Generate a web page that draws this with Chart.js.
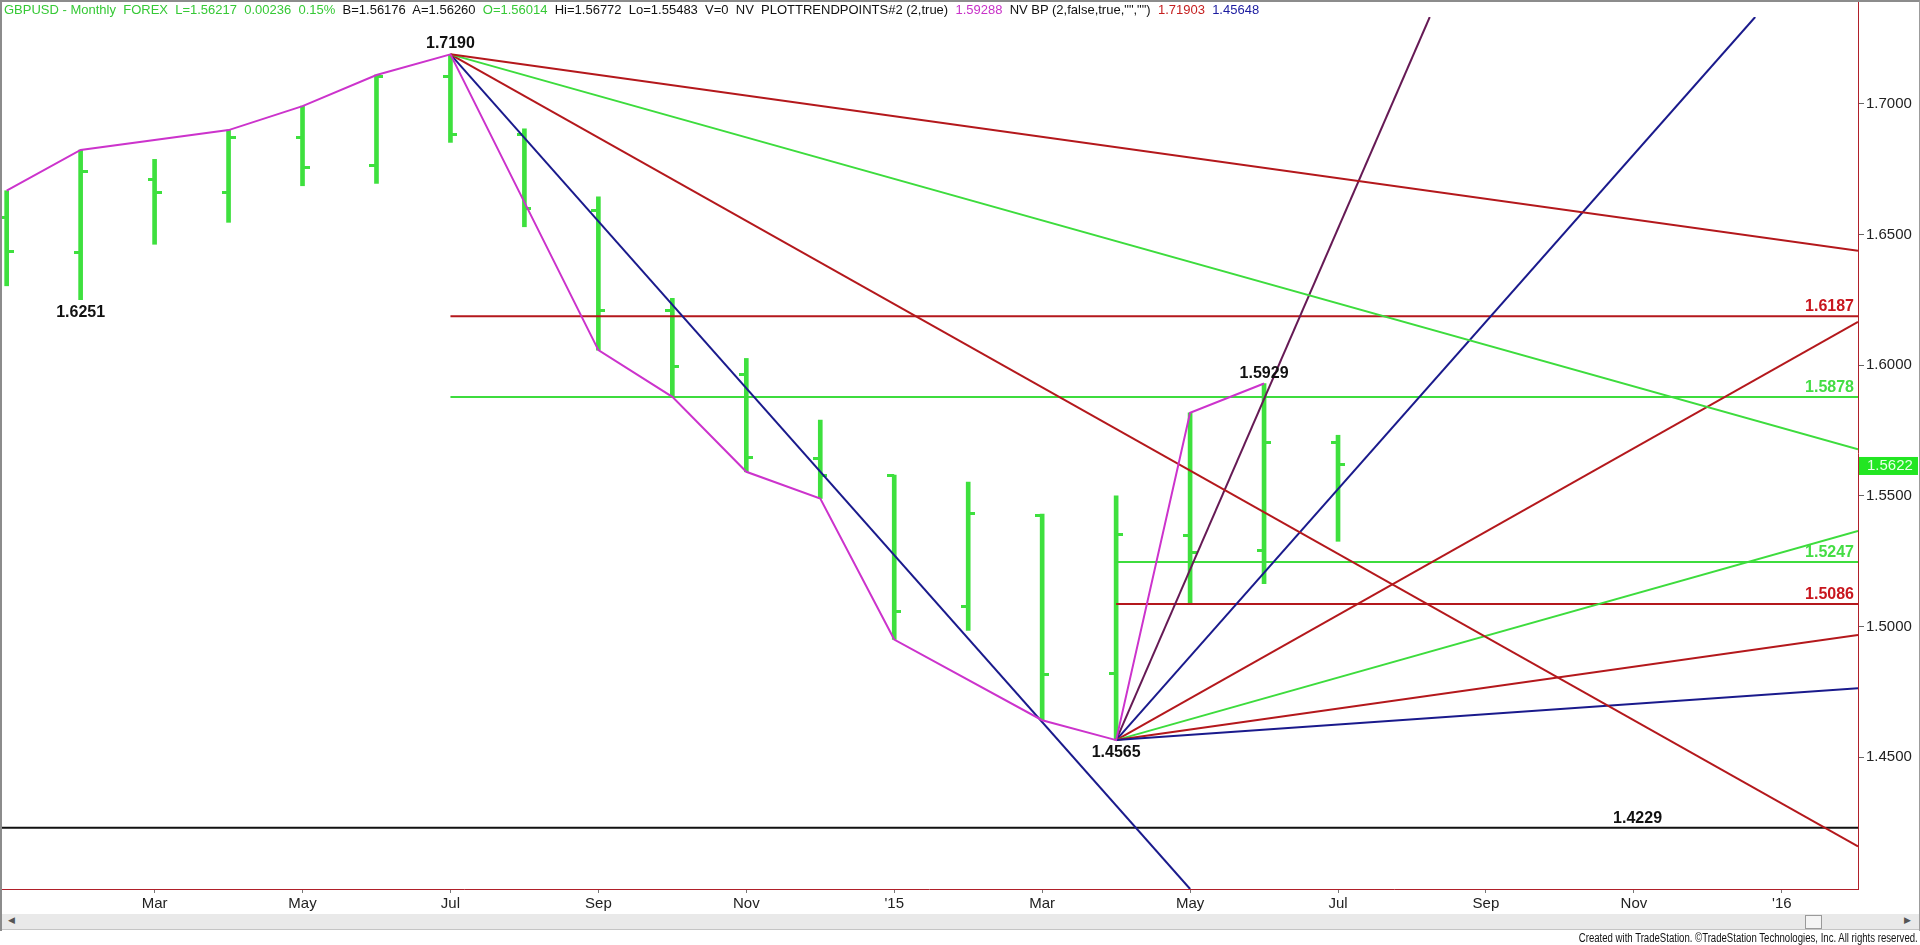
<!DOCTYPE html>
<html>
<head>
<meta charset="utf-8">
<script src="https://cdn.jsdelivr.net/npm/chart.js@4.4.1/dist/chart.umd.min.js"></script>
<style>
  html, body { margin: 0; padding: 0; background: #fff; }
  #wrap { position: relative; width: 1920px; height: 945px; overflow: hidden; background: #fff; }
  #chart { position: absolute; left: 0; top: 0; }
  #frame { position: absolute; left: 0; top: 0; width: 1917px; height: 929px; border-left: 2px solid #8c8c8c; border-top: 2px solid #8c8c8c; border-right: 1px solid #9c9c9c; pointer-events: none; }
  #header { position: absolute; left: 4px; top: 2px; font: 13px 'Liberation Sans', Arial, sans-serif; line-height: 16px; white-space: pre; color: #111; }
  #header .g { color: #36c936; }
  #header .m { color: #c832c8; }
  #header .r { color: #c41e1e; }
  #header .b { color: #1c1ca0; }
  #scroll { position: absolute; left: 2px; top: 914px; width: 1917px; height: 15px; background: #e9e9e9; border-bottom: 1px solid #c4c4c4; }
  #scroll .arrow { position: absolute; top: 1px; font: 9px 'Liberation Sans', Arial, sans-serif; color: #555; }
  #thumb { position: absolute; left: 1803px; top: 1px; width: 15px; height: 12px; background: #f4f4f4; border: 1px solid #9a9a9a; }
  #footer { position: absolute; right: 2px; top: 931px; font: 12px 'Liberation Sans', Arial, sans-serif; line-height: 14px; color: #111; white-space: pre; transform: scaleX(0.8); transform-origin: 100% 0; }
</style>
</head>
<body>
<div id="wrap">
  <canvas id="chart" width="1920" height="945"></canvas>
  <div id="header"><span class="g">GBPUSD - Monthly  FOREX  L=1.56217  0.00236  0.15%</span>  B=1.56176  A=1.56260  <span class="g">O=1.56014</span>  Hi=1.56772  Lo=1.55483  V=0  NV  PLOTTRENDPOINTS#2 (2,true)  <span class="m">1.59288</span>  NV BP (2,false,true,"","")  <span class="r">1.71903</span>  <span class="b">1.45648</span></div>
  <div id="scroll"><span class="arrow" style="left:6px">&#9664;</span><span id="thumb"></span><span class="arrow" style="left:1902px">&#9654;</span></div>
  <div id="footer">Created with TradeStation. ©TradeStation Technologies, Inc. All rights reserved.</div>
  <div id="frame"></div>
</div>
<script>
// month index 0 = Jan 2014
const monthIdx = [0, 1, 2, 3, 4, 5, 6, 7, 8, 9, 10, 11, 12, 13, 14, 15, 16, 17, 18];
const opens  = [1.6565, 1.6431, 1.6712, 1.6660, 1.6872, 1.6765, 1.7107, 1.6885, 1.6594, 1.6211, 1.5966, 1.5643, 1.5577, 1.5075, 1.5425, 1.4820, 1.5347, 1.5289, 1.5704];
const highs  = [1.6668, 1.6824, 1.6788, 1.6900, 1.6992, 1.7111, 1.7190, 1.6905, 1.6645, 1.6256, 1.6026, 1.5790, 1.5579, 1.5553, 1.5430, 1.5500, 1.5818, 1.5930, 1.5732];
const lows   = [1.6304, 1.6251, 1.6463, 1.6547, 1.6687, 1.6696, 1.6853, 1.6530, 1.6058, 1.5879, 1.5592, 1.5490, 1.4950, 1.4985, 1.4641, 1.4565, 1.5088, 1.5164, 1.5326];
const closes = [1.6437, 1.6741, 1.6660, 1.6872, 1.6758, 1.7105, 1.6884, 1.6600, 1.6208, 1.5994, 1.5647, 1.5578, 1.5058, 1.5432, 1.4816, 1.5353, 1.5284, 1.5704, 1.5620];
const lastPrice = 1.5622;

// swing line (PLOTTRENDPOINTS)
const swingIdx  = [0, 1, 3, 4, 5, 6, 8, 9, 10, 11, 12, 14, 15, 16, 17];
const swingVals = [1.6668, 1.6824, 1.6900, 1.6992, 1.7111, 1.7190, 1.6058, 1.5879, 1.5592, 1.5490, 1.4950, 1.4641, 1.4565, 1.5818, 1.5930];

// fans from the Jul 2014 high and the Apr 2015 low
const highPivot = [6, 1.7190];
const lowPivot = [15, 1.4565];
const downFanEnds = [[25.03, 1.6438], [25.03, 1.5678], [25.03, 1.4158], [16.0, 1.3995]];
const downFanColors = ['red', 'green', 'red', 'blue'];
const upFanEnds = [[25.03, 1.4763], [25.03, 1.4967], [25.03, 1.5366], [25.03, 1.6166], [23.64, 1.7333], [19.24, 1.7333]];
const upFanColors = ['blue', 'red', 'green', 'red', 'blue', 'purple'];

// retracement levels
const levelVals = [1.6187, 1.5878, 1.5247, 1.5086];
const levelStart = [6, 6, 15, 15];
const levelColors = ['red', 'green', 'green', 'red'];
const supportVal = 1.4229;
const supportLabelIdx = 22.05;

// pivot labels
const pivotIdx = [6, 1, 15, 17];
const pivotVals = [1.7190, 1.6251, 1.4565, 1.5929];
const pivotAbove = [true, false, false, true];

// axes
const xTickIdx = [2, 4, 6, 8, 10, 12, 14, 16, 18, 20, 22, 24];
const xTickLabels = ['Mar', 'May', 'Jul', 'Sep', 'Nov', "'15", 'Mar', 'May', 'Jul', 'Sep', 'Nov', "'16"];
const yTicks = [1.45, 1.50, 1.55, 1.60, 1.65, 1.70];
const X_MIN = -0.09, X_MAX = 25.03;
const Y_MIN = 1.3995, Y_MAX = 1.7333;

const COLORS = {
  bar: '#3ee03e',
  green: '#3ddc3d',
  red: '#b4181c',
  blue: '#1a1a8c',
  purple: '#661a55',
  magenta: '#cc33cc',
  black: '#111111',
  axis: '#b0202a',
  labelRed: '#c8161e',
  labelGreen: '#44dd44',
};
const FONT = "'Liberation Sans', Arial, sans-serif";

function makeTick(side) {
  const c = document.createElement('canvas');
  c.width = 14;
  c.height = 3;
  const g = c.getContext('2d');
  g.fillStyle = COLORS.bar;
  g.fillRect(side === 'left' ? 0 : 7, 0, 7, 3);
  return c;
}

function segment(x0, y0, x1, y1, color, width = 2, order = 1) {
  return {
    type: 'line',
    data: [{ x: x0, y: y0 }, { x: x1, y: y1 }],
    borderColor: color,
    borderWidth: width,
    pointRadius: 0,
    fill: false,
    tension: 0,
    order,
  };
}

const datasets = [
  {
    type: 'bar',
    data: monthIdx.map((m, i) => ({ x: m, y: [lows[i], highs[i]] })),
    backgroundColor: COLORS.bar,
    borderWidth: 0,
    barThickness: 4,
    grouped: false,
    order: 10,
  },
  {
    type: 'scatter',
    data: monthIdx.map((m, i) => ({ x: m, y: opens[i] })),
    pointStyle: makeTick('left'),
    pointRadius: 3,
    order: 9,
  },
  {
    type: 'scatter',
    data: monthIdx.map((m, i) => ({ x: m, y: closes[i] })),
    pointStyle: makeTick('right'),
    pointRadius: 3,
    order: 9,
  },
];

levelVals.forEach((v, i) => {
  datasets.push(segment(levelStart[i], v, X_MAX, v, COLORS[levelColors[i]], 2, 3));
});
datasets.push(segment(X_MIN, supportVal, X_MAX, supportVal, COLORS.black, 2, 3));

downFanEnds.forEach(([x, y], i) => {
  datasets.push(segment(highPivot[0], highPivot[1], x, y, COLORS[downFanColors[i]]));
});
upFanEnds.forEach(([x, y], i) => {
  datasets.push(segment(lowPivot[0], lowPivot[1], x, y, COLORS[upFanColors[i]]));
});

datasets.push({
  type: 'line',
  data: swingIdx.map((m, i) => ({ x: m, y: swingVals[i] })),
  borderColor: COLORS.magenta,
  borderWidth: 2,
  pointRadius: 0,
  fill: false,
  tension: 0,
  order: 0,
});

const labelPlugin = {
  id: 'priceLabels',
  afterDraw(chart) {
    const { ctx, chartArea } = chart;
    const xs = chart.scales.x, ys = chart.scales.y;
    ctx.save();

    // axis border runs up to the top of the window
    ctx.strokeStyle = COLORS.axis;
    ctx.lineWidth = 1;
    ctx.beginPath();
    ctx.moveTo(Math.round(chartArea.right) + 0.5, 0);
    ctx.lineTo(Math.round(chartArea.right) + 0.5, chartArea.top);
    ctx.stroke();

    ctx.font = 'bold 16px ' + FONT;
    ctx.fillStyle = '#111';
    ctx.textAlign = 'center';
    ctx.textBaseline = 'alphabetic';
    pivotIdx.forEach((m, i) => {
      const px = xs.getPixelForValue(m);
      const py = ys.getPixelForValue(pivotVals[i]);
      ctx.fillText(pivotVals[i].toFixed(4), px, pivotAbove[i] ? py - 6 : py + 17);
    });

    ctx.textAlign = 'right';
    levelVals.forEach((v, i) => {
      ctx.fillStyle = levelColors[i] === 'red' ? COLORS.labelRed : COLORS.labelGreen;
      ctx.fillText(v.toFixed(4), chartArea.right - 4, ys.getPixelForValue(v) - 5);
    });
    ctx.fillStyle = '#111';
    ctx.textAlign = 'center';
    ctx.fillText(supportVal.toFixed(4), xs.getPixelForValue(supportLabelIdx), ys.getPixelForValue(supportVal) - 5);

    // last price marker on the price axis
    const py = ys.getPixelForValue(lastPrice);
    ctx.fillStyle = '#22e622';
    ctx.fillRect(chartArea.right + 1, py - 7, 59, 18);
    ctx.fillStyle = '#e8ffe8';
    ctx.font = '15px ' + FONT;
    ctx.textAlign = 'left';
    ctx.textBaseline = 'middle';
    ctx.fillText(lastPrice.toFixed(4), chartArea.right + 9, py + 2);
    ctx.restore();
  },
};

const chart = new Chart(document.getElementById('chart').getContext('2d'), {
  data: { datasets },
  options: {
    responsive: false,
    animation: false,
    events: [],
    layout: { autoPadding: false, padding: { top: 17, left: 0, right: 0, bottom: 0 } },
    plugins: { legend: { display: false }, tooltip: { enabled: false } },
    scales: {
      x: {
        type: 'linear',
        min: X_MIN,
        max: X_MAX,
        offset: false,
        afterBuildTicks: scale => { scale.ticks = xTickIdx.map(v => ({ value: v })); },
        afterFit: scale => { scale.height = 56; },
        ticks: {
          callback: (value, index) => xTickLabels[index],
          font: { family: FONT, size: 15 },
          color: '#222',
          padding: 2,
          maxRotation: 0,
          autoSkip: false,
        },
        grid: { offset: false, drawOnChartArea: false, tickLength: 4, tickColor: '#777' },
        border: { color: COLORS.axis, width: 1 },
      },
      y: {
        type: 'linear',
        position: 'right',
        min: Y_MIN,
        max: Y_MAX,
        afterBuildTicks: scale => { scale.ticks = yTicks.map(v => ({ value: v })); },
        afterFit: scale => { scale.width = 62; },
        ticks: {
          callback: value => value.toFixed(4),
          font: { family: FONT, size: 15 },
          color: '#222',
          padding: 2,
        },
        grid: { drawOnChartArea: false, tickLength: 6, tickColor: '#666' },
        border: { color: COLORS.axis, width: 1 },
      },
    },
  },
  plugins: [labelPlugin],
});
</script>
</body>
</html>
